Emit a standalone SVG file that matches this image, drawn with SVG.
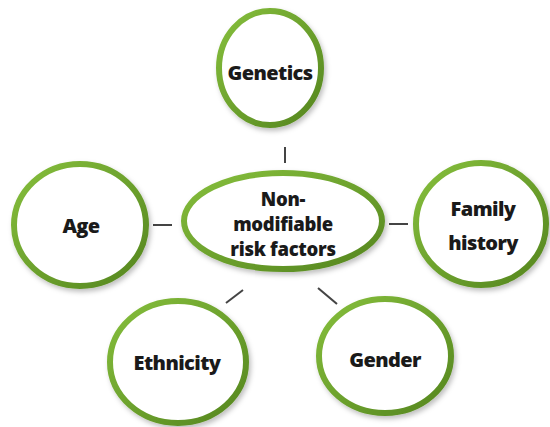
<svg xmlns="http://www.w3.org/2000/svg" width="550" height="427" viewBox="0 0 550 427">
  <defs>
    <linearGradient id="g" x1="0" y1="0" x2="1" y2="1">
      <stop offset="0" stop-color="#86bf3c"/>
      <stop offset="1" stop-color="#54851f"/>
    </linearGradient>
    <filter id="sh" x="-20%" y="-20%" width="140%" height="140%">
      <feDropShadow dx="2" dy="3" stdDeviation="2.5" flood-color="#000" flood-opacity="0.25"/>
    </filter>
  </defs>
  <style>
    .n { fill: #ffffff; stroke: url(#g); stroke-width: 6; filter: url(#sh); }
    .t { font-family: "Open Sans", "DejaVu Sans", sans-serif; font-weight: 800; font-size: 20px; fill: #1a1a1a; text-anchor: middle; letter-spacing: -0.6px; }
    .m { font-size: 18.5px; letter-spacing: -0.3px; }
    .c { stroke: #444; stroke-width: 2; fill: none; }
  </style>
  <rect width="550" height="427" fill="#ffffff"/>
  <g id="connectors">
    <line class="c" x1="285" y1="147" x2="285" y2="163"/>
    <line class="c" x1="153" y1="225" x2="172" y2="225"/>
    <line class="c" x1="389" y1="224" x2="408" y2="224"/>
    <line class="c" x1="226" y1="303" x2="243" y2="290"/>
    <line class="c" x1="318" y1="288" x2="337" y2="304"/>
  </g>
  <g id="genetics">
    <ellipse class="n" cx="270" cy="68" rx="51" ry="57"/>
    <text class="t" x="270" y="80">Genetics</text>
  </g>
  <g id="age">
    <ellipse class="n" cx="80" cy="225" rx="66" ry="61"/>
    <text class="t" x="81" y="233">Age</text>
  </g>
  <g id="family-history">
    <ellipse class="n" cx="481" cy="224" rx="65" ry="61"/>
    <text class="t" x="483" y="216">Family</text>
    <text class="t" x="483" y="250">history</text>
  </g>
  <g id="ethnicity">
    <ellipse class="n" cx="178" cy="362" rx="68" ry="61"/>
    <text class="t" x="177" y="370">Ethnicity</text>
  </g>
  <g id="gender">
    <ellipse class="n" cx="385" cy="356" rx="66" ry="57"/>
    <text class="t" x="385" y="367">Gender</text>
  </g>
  <g id="center">
    <ellipse class="n" cx="283" cy="221" rx="99" ry="48"/>
    <text class="t m" x="283" y="206">Non-</text>
    <text class="t m" x="283" y="231">modifiable</text>
    <text class="t m" x="283" y="256">risk factors</text>
  </g>
</svg>
